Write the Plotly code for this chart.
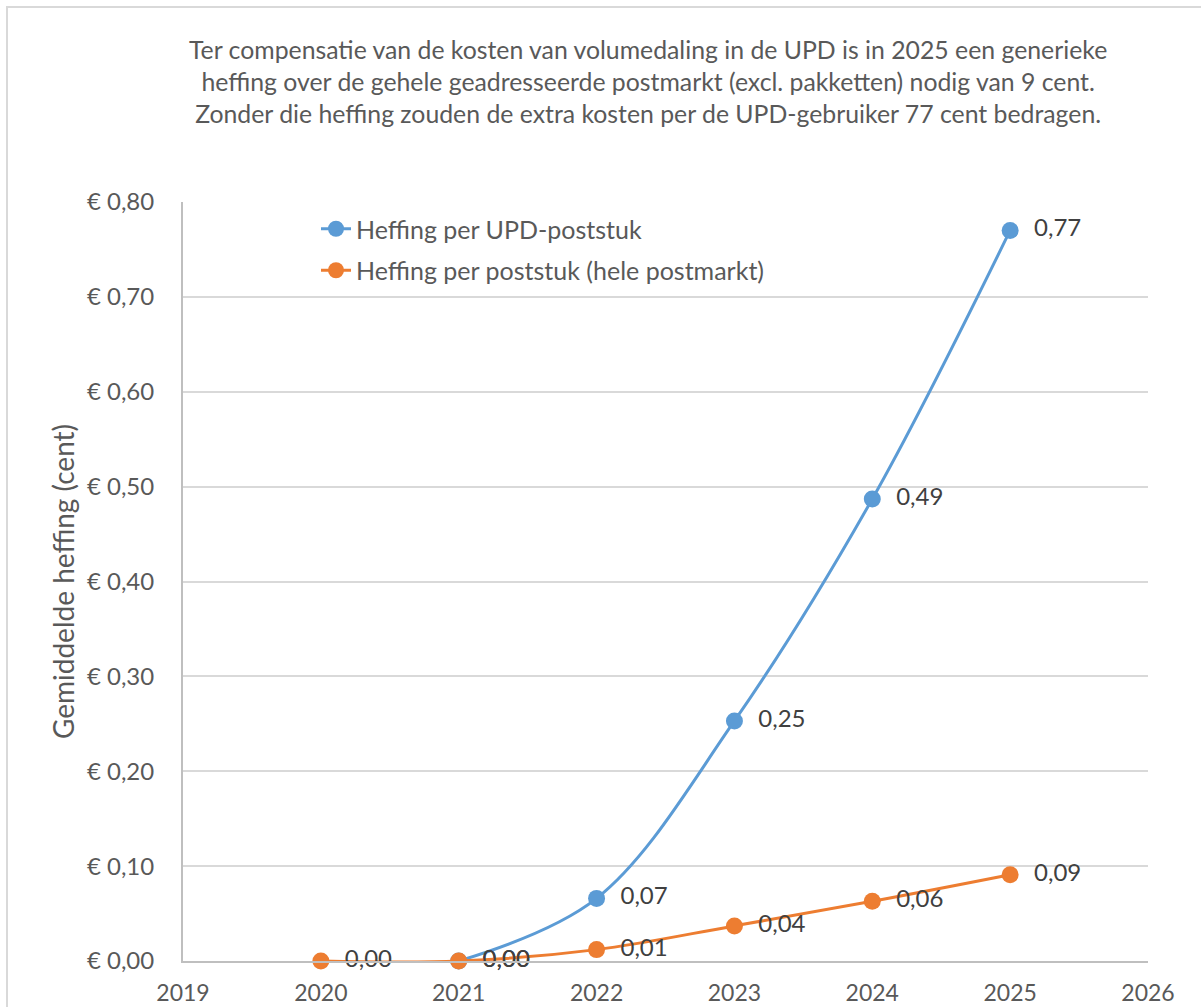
import plotly.graph_objects as go

years_upd = [2021, 2022, 2023, 2024, 2025]
heffing_upd = [0.0, 0.066, 0.253, 0.487, 0.770]

years_markt = [2020, 2021, 2022, 2023, 2024, 2025]
heffing_markt = [0.0, 0.0, 0.012, 0.037, 0.063, 0.091]

x_ticks = [2019, 2020, 2021, 2022, 2023, 2024, 2025, 2026]
y_ticks = [0.0, 0.1, 0.2, 0.3, 0.4, 0.5, 0.6, 0.7, 0.8]
y_tick_labels = ["€ 0,00", "€ 0,10", "€ 0,20", "€ 0,30", "€ 0,40",
                 "€ 0,50", "€ 0,60", "€ 0,70", "€ 0,80"]

title_lines = [
    "Ter compensatie van de kosten van volumedaling in de UPD is in 2025 een generieke",
    "heffing over de gehele geadresseerde postmarkt (excl. pakketten) nodig van 9 cent.",
    "Zonder die heffing zouden de extra kosten per de UPD-gebruiker 77 cent bedragen.",
]

FONT = "Lato"
GREY = "#595959"
BLUE = "#5B9BD5"
ORANGE = "#ED7D31"
NB = "\u00a0\u00a0"

fig = go.Figure()
fig.add_trace(go.Scatter(
    x=years_upd, y=heffing_upd, name="Heffing per UPD-poststuk",
    legendgroup="a", cliponaxis=False,
    mode="lines+markers+text",
    line=dict(color=BLUE, width=3, shape="spline", smoothing=1.0),
    marker=dict(color=BLUE, size=17),
    texttemplate=NB + "%{y:.2f}", textposition="middle right",
    textfont=dict(size=24, color="#404040", family=FONT),
))
fig.add_trace(go.Scatter(
    x=years_markt, y=heffing_markt, name="Heffing per poststuk (hele postmarkt)",
    legendgroup="b", cliponaxis=False,
    mode="lines+markers+text",
    line=dict(color=ORANGE, width=3, shape="spline", smoothing=1.0),
    marker=dict(color=ORANGE, size=17),
    texttemplate=NB + "%{y:.2f}", textposition="middle right",
    textfont=dict(size=24, color="#404040", family=FONT),
))

L, R, T, B = 183, 1148, 202, 961
W, H = 1201, 1007
pw, ph = R - L, B - T

fig.update_layout(
    width=W, height=H,
    margin=dict(l=L, r=W - R, t=T, b=H - B, autoexpand=False),
    paper_bgcolor="white", plot_bgcolor="white",
    separators=",.",
    font=dict(family=FONT, size=23, color=GREY),
    showlegend=True,
    legend=dict(
        x=(316 - L) / pw, y=(B - 206) / ph, xanchor="left", yanchor="top",
        bgcolor="rgba(0,0,0,0)", font=dict(size=25, color=GREY, family=FONT),
        itemwidth=30, tracegroupgap=6,
    ),
    annotations=[dict(
        text="<br>".join(title_lines), xref="paper", yref="paper",
        x=(648 - L) / pw, y=(B - 33) / ph, xanchor="center", yanchor="top",
        showarrow=False, align="center",
        font=dict(size=24.8, color=GREY, family=FONT),
    )],
    shapes=[dict(
        type="rect", xref="paper", yref="paper",
        x0=(7 - L) / pw, x1=2.0, y0=-1.0, y1=(B - 7) / ph,
        line=dict(color="#d9d9d9", width=2), layer="below",
    )],
)

fig.update_xaxes(
    range=[2019, 2026], tickvals=x_ticks, ticktext=[str(v) for v in x_ticks],
    showgrid=False, zeroline=False, showline=True, linecolor="#bfbfbf", linewidth=2,
    ticks="", ticklabelstandoff=10, tickfont=dict(size=23, color=GREY, family=FONT),
)
fig.update_yaxes(
    range=[0, 0.8], tickvals=y_ticks, ticktext=y_tick_labels,
    showgrid=True, gridcolor="#d9d9d9", gridwidth=2,
    zeroline=False, showline=True, linecolor="#bfbfbf", linewidth=2,
    ticks="", ticklabelstandoff=22, tickfont=dict(size=24, color=GREY, family=FONT),
    title=dict(text="Gemiddelde heffing (cent)", standoff=4,
               font=dict(size=28, color=GREY, family=FONT)),
)

fig.write_html(
    "out.html",
    config={"displayModeBar": False},
    post_script="document.body.style.margin='0';document.body.style.overflow='hidden';",
)
